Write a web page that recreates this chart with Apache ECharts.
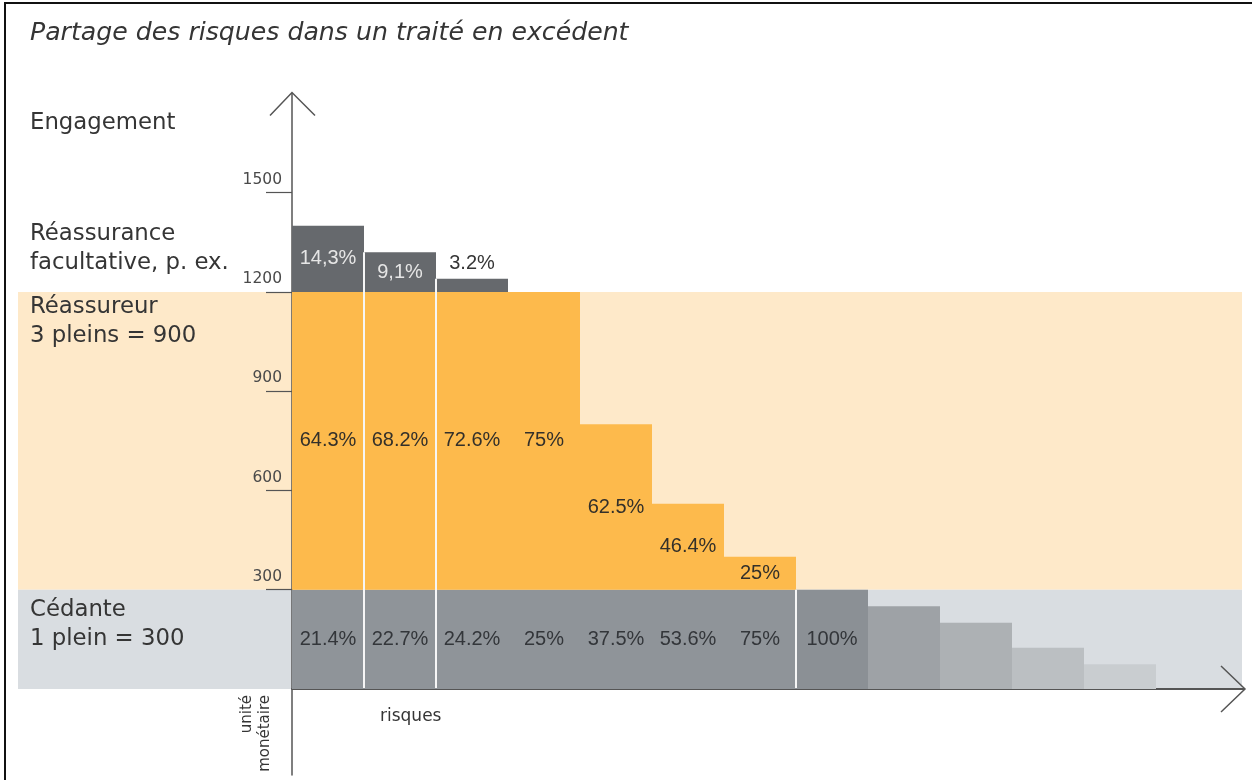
<!DOCTYPE html>
<html>
<head>
<meta charset="utf-8">
<script src="https://cdn.jsdelivr.net/npm/echarts@6/dist/echarts.min.js"></script>
<style>
html,body{margin:0;padding:0;background:#fff;}
#c{width:1252px;height:780px;}
</style>
</head>
<body>
<div id="c"></div>
<script>
// ---- data ----
const categories = ['1','2','3','4','5','6','7','8','9','10','11','12',''];
const cedante     = [300, 300, 300, 300, 300, 300, 300, 300, 250, 200, 125, 75, null];
const reassureur  = [900, 900, 900, 900, 500, 260, 100, null, null, null, null, null, null];
const facultative = [200, 120, 40, null, null, null, null, null, null, null, null, null, null];
const cedanteLabels     = ['21.4%','22.7%','24.2%','25%','37.5%','53.6%','75%','100%','','','','',''];
const reassureurLabels  = ['64.3%','68.2%','72.6%','75%','62.5%','46.4%','25%','','','','','',''];
const facultativeLabels = ['14,3%','9,1%','3.2%','','','','','','','','','',''];
const yTicks = [300, 600, 900, 1200, 1500];
const bandReassureur = [300, 1200];
const bandCedante = [0, 300];
const separatorsAfter = [0, 1, 6];

// ---- styles ----
const COL = {
  fac: '#66696d', rea: '#fdba4c', ced: '#8f9499',
  bandRea: '#fee9c9', bandCed: '#d9dde1', axis: '#555555', text: '#353535'
};
const fadeGrays = ['#8b9095', '#9ea2a6', '#adb1b4', '#bbbfc2', '#c9cdd0'];
const TXT = 'DejaVu Sans';
const NUM = 'Liberation Sans';

const chart = echarts.init(document.getElementById('c'), null, {renderer: 'canvas'});

const labelBase = {show: true, fontFamily: NUM, fontSize: 20};

const option = {
  animation: false,
  backgroundColor: '#ffffff',
  title: {
    text: 'Partage des risques dans un traité en excédent',
    left: 25, top: 16,
    textStyle: {fontFamily: TXT, fontSize: 25.2, fontStyle: 'italic', fontWeight: 'normal', color: COL.text}
  },
  grid: {left: 292, right: 24, top: 93.5, bottom: 5, containLabel: false, outerBoundsMode: 'none'},
  xAxis: {
    type: 'category', data: categories,
    axisLine: {show: true, onZero: true, lineStyle: {color: COL.axis, width: 2}},
    axisTick: {show: false}, axisLabel: {show: false}, splitLine: {show: false}
  },
  yAxis: {
    type: 'value', min: -260, max: 1800,
    axisLine: {show: true, onZero: false, lineStyle: {color: COL.axis, width: 1.5}},
    axisTick: {show: true, customValues: yTicks, length: 26, lineStyle: {color: COL.axis, width: 1.2}},
    axisLabel: {show: true, customValues: yTicks, margin: 10, fontFamily: TXT, fontSize: 15.5,
                color: '#4a4a4a', verticalAlign: 'bottom', padding: [0, 0, 5, 0],
                formatter: v => String(v)},
    splitLine: {show: false}
  },
  series: [
    {
      name: 'Cédante', type: 'bar', stack: 'total', barCategoryGap: '0%',
      data: cedante.map((v, i) => v == null ? null : {
        value: v, itemStyle: {color: i >= 7 ? fadeGrays[i - 7] : COL.ced}
      }),
      label: Object.assign({}, labelBase, {position: 'inside', color: '#33363a',
        formatter: p => cedanteLabels[p.dataIndex]})
    },
    {
      name: 'Réassureur', type: 'bar', stack: 'total', barCategoryGap: '0%',
      data: reassureur,
      itemStyle: {color: COL.rea},
      label: Object.assign({}, labelBase, {position: 'inside', color: '#33302a',
        formatter: p => reassureurLabels[p.dataIndex]})
    },
    {
      name: 'Réassurance facultative', type: 'bar', stack: 'total', barCategoryGap: '0%',
      data: facultative.map(v => v == null ? null : {
        value: v,
        label: v < 80 ? {position: 'top', color: COL.text, distance: 5}
                      : {position: 'inside', color: '#e6e6e6'}
      }),
      itemStyle: {color: COL.fac},
      label: Object.assign({}, labelBase, {formatter: p => facultativeLabels[p.dataIndex]})
    }
  ]
};
chart.setOption(option);

// ---- decorations computed from the chart's own scales ----
const py = v => chart.convertToPixel({yAxisIndex: 0}, v);
const px = i => chart.convertToPixel({xAxisIndex: 0}, i);
const total = i => (cedante[i] || 0) + (reassureur[i] || 0) + (facultative[i] || 0);
const bw = px(1) - px(0);
const x0 = px(0) - bw / 2;
const xEnd = px(categories.length - 1) + bw / 2;
const yZero = py(0);
const yTop = py(1800);
const tipX = 1245;

const g = [];
g.push({type: 'rect', z: -1, silent: true,
  shape: {x: 18, y: py(bandReassureur[1]), width: 1224, height: py(bandReassureur[0]) - py(bandReassureur[1])},
  style: {fill: COL.bandRea}});
g.push({type: 'rect', z: -1, silent: true,
  shape: {x: 18, y: py(bandCedante[1]), width: 1224, height: py(bandCedante[0]) - py(bandCedante[1])},
  style: {fill: COL.bandCed}});
separatorsAfter.forEach(s => {
  const xs = (px(s) + px(s + 1)) / 2;
  g.push({type: 'line', z: 10, silent: true,
    shape: {x1: xs, y1: py(Math.min(total(s), total(s + 1))), x2: xs, y2: yZero - 1},
    style: {stroke: '#f6f6f6', lineWidth: 2}});
});
// axis arrow heads
g.push({type: 'polyline', z: 10, silent: true,
  shape: {points: [[x0 - 22, yTop + 22], [x0, yTop - 1], [x0 + 23, yTop + 22]]},
  style: {stroke: COL.axis, lineWidth: 1.5, fill: null}});
g.push({type: 'line', z: 10, silent: true,
  shape: {x1: xEnd, y1: yZero, x2: tipX, y2: yZero},
  style: {stroke: COL.axis, lineWidth: 2}});
g.push({type: 'polyline', z: 10, silent: true,
  shape: {points: [[tipX - 24, yZero - 23], [tipX, yZero], [tipX - 24, yZero + 23]]},
  style: {stroke: COL.axis, lineWidth: 1.5, fill: null}});
// frame
g.push({type: 'line', z: 10, silent: true, shape: {x1: 5, y1: 3, x2: 5, y2: 780}, style: {stroke: '#111', lineWidth: 2}});
g.push({type: 'line', z: 10, silent: true, shape: {x1: 4, y1: 3, x2: 1252, y2: 3}, style: {stroke: '#111', lineWidth: 2}});
// side texts
const txt = (text, x, y, extra) => Object.assign({type: 'text', z: 5, silent: true, x: x, y: y,
  style: Object.assign({text: text, fill: COL.text, font: '22.8px "' + TXT + '"', lineHeight: 29,
    align: 'left', verticalAlign: 'top'}, extra || {})});
g.push(txt('Engagement', 30, 123.5, {verticalAlign: 'middle'}));
g.push(txt('Réassurance\nfacultative, p. ex.', 30, 220));
g.push(txt('Réassureur\n3 pleins = 900', 30, py(1200) + 1));
g.push(txt('Cédante\n1 plein = 300', 30, py(300) + 6));
g.push(txt('risques', 380, yZero + 28, {font: '17px "' + TXT + '"', verticalAlign: 'middle', lineHeight: 20}));
g.push(Object.assign(txt('unité\nmonétaire', 256, yZero + 6,
  {font: '15px "' + TXT + '"', align: 'right', verticalAlign: 'middle', lineHeight: 18}), {rotation: Math.PI / 2}));

chart.setOption({graphic: {elements: g}});
</script>
</body>
</html>
